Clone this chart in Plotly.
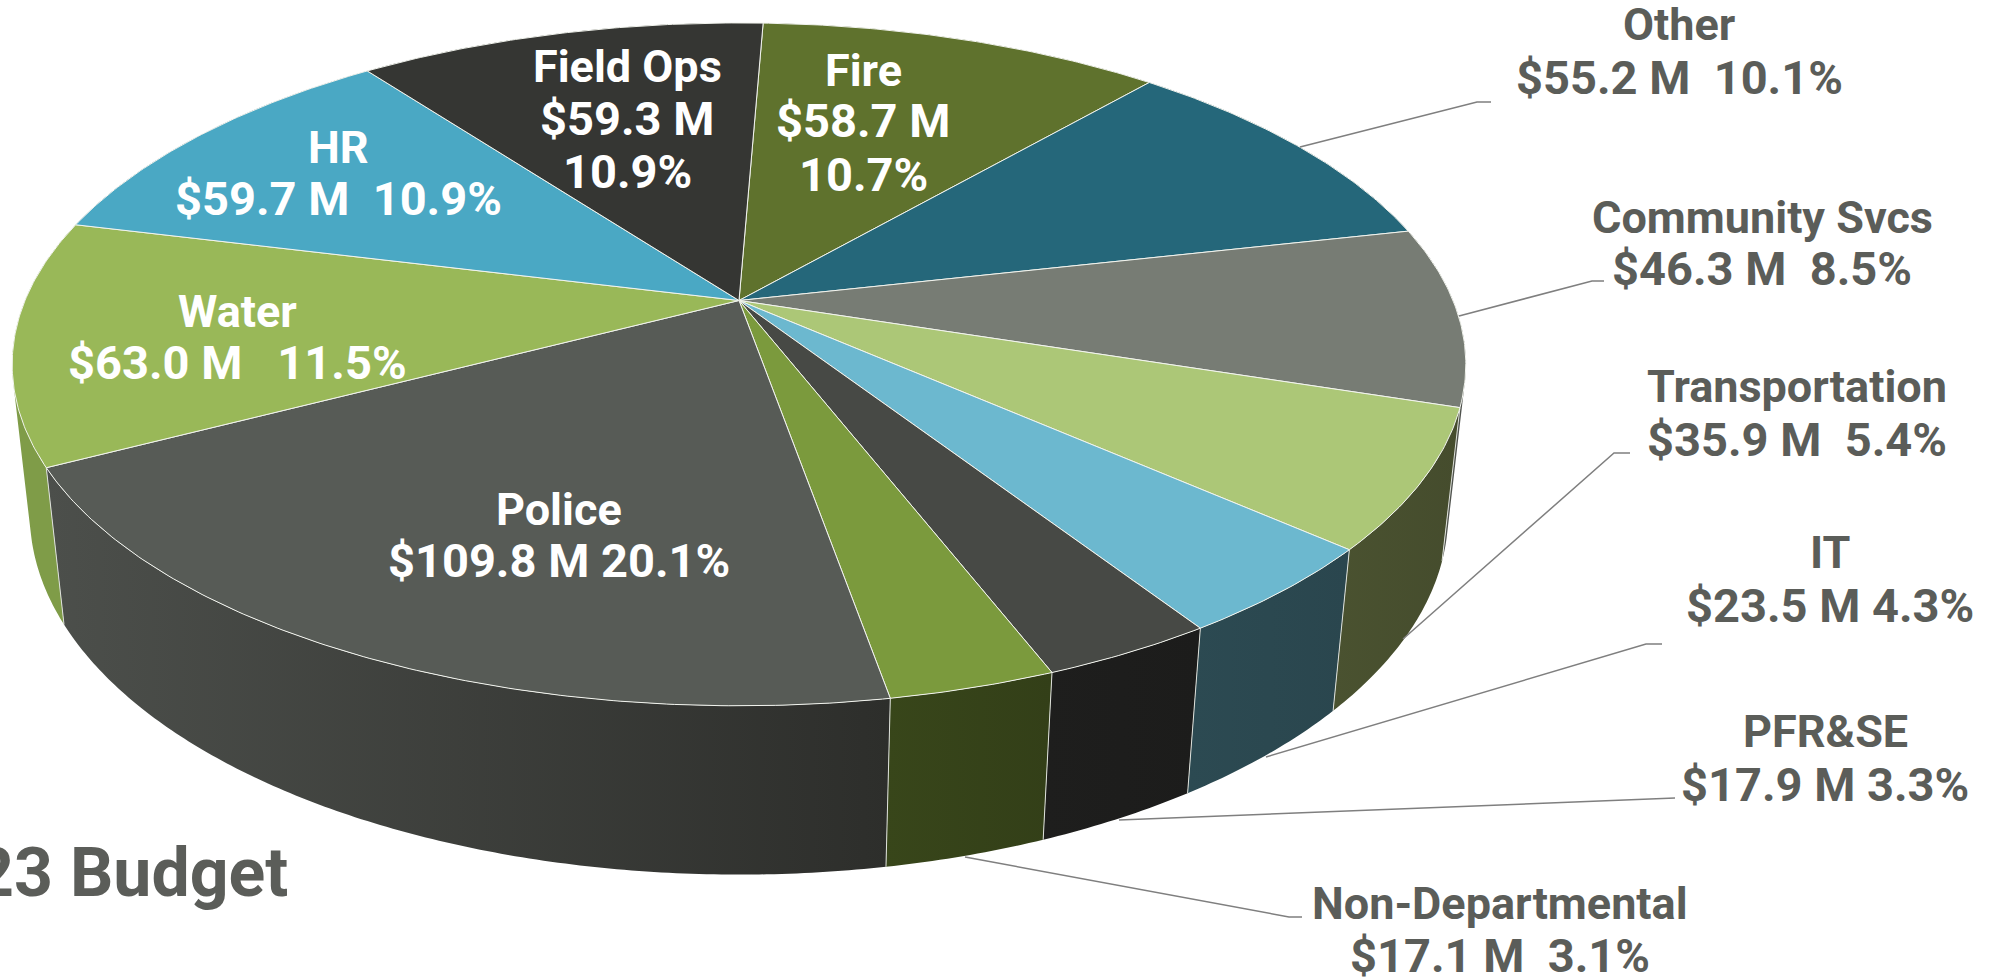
import numpy as np
import plotly.graph_objects as go

# --- data, clockwise from the top of the pie
departments = ["Fire", "Other", "Community Svcs", "Transportation", "IT", "PFR&SE",
               "Non-Departmental", "Police", "Water", "HR", "Field Ops"]
budget_m = [58.7, 55.2, 46.3, 35.9, 23.5, 17.9, 17.1, 109.8, 63.0, 59.7, 59.3]
top_colors = ["#5f722d", "#25677a", "#777c74", "#acc777", "#6cb8cf", "#474945",
              "#7b9a3d", "#575b56", "#99b858", "#4aa8c4", "#353633"]
wall_left = ["#3f4c1e", "#1a4552", "#50534e", "#4a5230", "#2c4a52", "#1e1e1d",
             "#38461a", "#4c4f4b", "#7f9c48", "#31708a", "#232422"]
wall_right = ["#3f4c1e", "#1a4552", "#50534e", "#454c2d", "#2a464e", "#1c1c1b",
              "#333f18", "#2d2e2b", "#7f9c48", "#31708a", "#232422"]

label_lines = [
    ["Fire", "$58.7 M", "10.7%"],
    ["Other", "$55.2 M  10.1%"],
    ["Community Svcs", "$46.3 M  8.5%"],
    ["Transportation", "$35.9 M  5.4%"],
    ["IT", "$23.5 M 4.3%"],
    ["PFR&SE", "$17.9 M 3.3%"],
    ["Non-Departmental", "$17.1 M  3.1%"],
    ["Police", "$109.8 M 20.1%"],
    ["Water", "$63.0 M   11.5%"],
    ["HR", "$59.7 M  10.9%"],
    ["Field Ops", "$59.3 M", "10.9%"],
]
title_text = "2023 Budget"

# --- label placement (page pixels): centre x, y of each line
label_x = [863, 1679, 1762, 1797, 1830, 1825, 1500, 559, 237, 338, 627]
label_y = [[70, 120, 174], [24, 77], [217, 268], [386, 439], [552, 605], [731, 784],
           [903, 955], [509, 560], [311, 362], [147, 198], [66, 118, 171]]
label_col = ["#ffffff", "#5b5d59", "#5b5d59", "#5b5d59", "#5b5d59", "#5b5d59",
             "#5b5d59", "#ffffff", "#ffffff", "#ffffff", "#ffffff"]
leaders = {
    1: ([1300, 1477, 1491], [147, 102, 102]),
    2: ([1459, 1592, 1604], [316, 281, 281]),
    3: ([1403, 1614, 1630], [639, 453, 453]),
    4: ([1266, 1646, 1662], [757, 644, 644]),
    5: ([1119, 1675], [820, 798]),
    6: ([965, 1289, 1302], [857, 917, 917]),
}

# --- projection of the tilted pie onto the page
cx, cy = 739.0, 300.5
a, b, c = 714.0, 329.5, 151.0
k, m = 0.187, 0.024
start_deg = 2.3


def project(theta, z):
    X, Y = np.sin(theta), np.cos(theta)
    w = 1 + k * Y + m * z
    return cx + a * X / w, cy + (-b * Y + c * z) / w


vals = np.array(budget_m)
edges = np.radians(start_deg + 360 * np.concatenate([[0], np.cumsum(vals)]) / vals.sum())

fig = go.Figure()


def arc(i):
    n = max(6, int(np.degrees(edges[i + 1] - edges[i])))
    return np.linspace(edges[i], edges[i + 1], n * 2)


def wall_path(t):
    """The wall as consistently wound quads, so its silhouette is filled."""
    xt, yt = project(t, 0)
    xb, yb = project(t, 1)
    px, py = [], []
    for j in range(len(t) - 1):
        qx = [xt[j], xt[j + 1], xb[j + 1], xb[j]]
        qy = [yt[j], yt[j + 1], yb[j + 1], yb[j]]
        area = sum(qx[n] * qy[(n + 1) % 4] - qx[(n + 1) % 4] * qy[n] for n in range(4))
        if area < 0:
            qx, qy = qx[::-1], qy[::-1]
        px += qx + [qx[0], None]
        py += qy + [qy[0], None]
    return px, py


# side walls, back to front
mids = (edges[:-1] + edges[1:]) / 2
for i in np.argsort(-np.cos(mids)):
    px, py = wall_path(arc(i))
    fig.add_trace(go.Scatter(
        x=px, y=py, mode="lines", fill="toself",
        line=dict(width=0), hoverinfo="skip", showlegend=False,
        fillcolor=wall_left[i],
        fillgradient=dict(type="horizontal",
                          colorscale=[[0, wall_left[i]], [1, wall_right[i]]]),
    ))

# light vertical edges where slices meet on the visible wall
for e in edges:
    if np.cos(e) < -0.25:
        x0, y0 = project(e, 0)
        x1, y1 = project(e, 1)
        fig.add_trace(go.Scatter(x=[x0, x1], y=[y0, y1], mode="lines",
                                 line=dict(color="#dfe2dc", width=1),
                                 hoverinfo="skip", showlegend=False))

# top faces
for i in range(len(vals)):
    xt, yt = project(arc(i), 0)
    fig.add_trace(go.Scatter(
        x=np.r_[cx, xt, cx], y=np.r_[cy, yt, cy], mode="lines", fill="toself",
        fillcolor=top_colors[i], line=dict(color="#f2f4ee", width=1),
        hoverinfo="skip", showlegend=False, name=departments[i],
    ))

# leader lines
for lx, ly in leaders.values():
    fig.add_trace(go.Scatter(x=lx, y=ly, mode="lines", line=dict(color="#7f7f7f", width=1.5),
                             hoverinfo="skip", showlegend=False))

FONT = "Roboto"
for i, lines in enumerate(label_lines):
    for n, (txt, yy) in enumerate(zip(lines, label_y[i])):
        fig.add_annotation(x=label_x[i], y=yy, text="<b>%s</b>" % txt, showarrow=False,
                           xanchor="center", yanchor="middle",
                           font=dict(family=FONT, size=45 if n == 0 else 47, color=label_col[i]))
fig.add_annotation(x=290, y=873, text="<b>%s</b>" % title_text, showarrow=False,
                   xanchor="right", yanchor="middle",
                   font=dict(family=FONT, size=68, color="#5b5d59"))

fig.update_layout(
    width=2005, height=978, margin=dict(l=0, r=0, t=0, b=0),
    paper_bgcolor="white", plot_bgcolor="white", showlegend=False,
    xaxis=dict(range=[0, 2005], visible=False),
    yaxis=dict(range=[978, 0], visible=False),
)
fig.write_html("out.html", config={"displayModeBar": False},
               post_script="document.body.style.margin='0';document.body.style.overflow='hidden';")
